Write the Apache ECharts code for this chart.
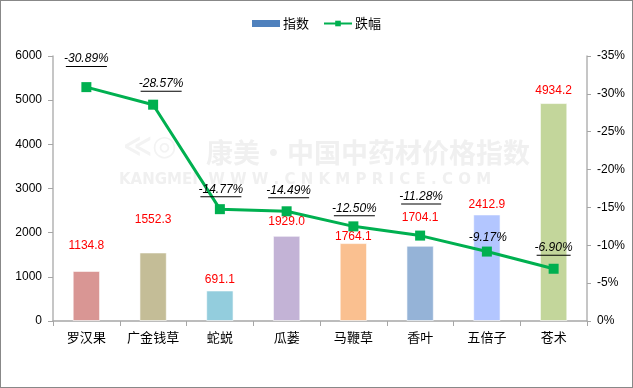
<!DOCTYPE html>
<html><head><meta charset="utf-8">
<script src="https://cdn.jsdelivr.net/npm/echarts@6/dist/echarts.min.js"></script>
<style>html,body{margin:0;padding:0;background:#fff}#c{width:633px;height:388px;box-sizing:border-box;border:1px solid #888}</style>
</head><body><div id="c"></div>
<script>
const categories = ['罗汉果','广金钱草','蛇蜕','瓜蒌','马鞭草','香叶','五倍子','苍术'];
const indexValues = [1134.8, 1552.3, 691.1, 1929.0, 1764.1, 1704.1, 2412.9, 4934.2];
const changeValues = [-30.89, -28.57, -14.77, -14.49, -12.50, -11.28, -9.17, -6.90];
const leftTicks = [0, 1000, 2000, 3000, 4000, 5000, 6000];
const rightTicks = [0, -5, -10, -15, -20, -25, -30, -35];

// styles (not data)
const barColors = ['#D99694','#C4BD97','#93CDDD','#C3B3D6','#FAC090','#95B3D7','#B3C6FF','#C3D69B'];
const barLabelDy = [-14, -22, 0, -3, 5, -17, 1, -1];
const lineLabelOff = [[0,-28],[8,-21],[1,-20],[2,-21],[1,-18],[1,-39],[1,-14],[0,-21]];
const underlined = [true,true,true,true,true,true,false,true];

const FONT = 'Liberation Sans';
const cv = document.createElement('canvas').getContext('2d');
cv.font = 'italic 12px "' + FONT + '"';
function fmtPct(v){ return v.toFixed(2) + '%'; }

const chart = echarts.init(document.getElementById('c'), null, {renderer:'canvas'});
chart.setOption({
  animation: false,
  backgroundColor: '#fff',
  legend: {
    top: 11, left: 'center', itemGap: 14, itemWidth: 28, itemHeight: 7,
    textStyle: {fontFamily: 'Noto Sans CJK SC', fontSize: 13, color: '#000', padding: [0,0,0,-2]},
    data: [
      {name: '指数', icon: 'rect', itemStyle: {color: '#4F81BD'}},
      {name: '跌幅'}
    ]
  },
  graphic: [
    {type: 'text', left: 205, top: 138, z: 0, silent: true,
     style: {text: '康美·中国中药材价格指数', fontSize: 27, fontWeight: 'bold', fontFamily: 'Noto Sans CJK SC', fill: '#f0f0f0'}},
    {type: 'text', left: 118, top: 172, z: 0, silent: true,
     style: {text: 'KANGMEI  W W W . C N K M P R I C E . C O M', fontSize: 15, fontWeight: 'bold', fontFamily: 'DejaVu Sans', fill: '#f0f0f0'}},
    {type: 'text', left: 122, top: 133, z: 0, silent: true,
     style: {text: '≪◎', fontSize: 28, fontWeight: 'bold', fontFamily: 'DejaVu Sans', fill: '#f3f3f3'}}
  ],
  grid: {left: 52, right: 45, top: 55, bottom: 66, containLabel: false},
  xAxis: {
    type: 'category', data: categories,
    axisLine: {lineStyle: {color: '#a6a6a6', width: 1.5}},
    axisTick: {show: true, alignWithLabel: false, interval: 0, length: 5, lineStyle: {color: '#a6a6a6'}},
    axisLabel: {interval: 0, fontFamily: 'Noto Sans CJK SC', fontSize: 13, color: '#000', margin: 10}
  },
  yAxis: [
    {type: 'value', min: 0, max: 6000, interval: 1000, position: 'left',
     axisLine: {show: true, lineStyle: {color: '#b3b3b3', width: 1.5}},
     axisTick: {show: true, inside: false, length: 5, lineStyle: {color: '#a6a6a6'}},
     splitLine: {show: false},
     axisLabel: {fontFamily: FONT, fontSize: 12, color: '#000', margin: 11,
       formatter: v => leftTicks.includes(v) ? String(v) : ''}},
    {type: 'value', min: -35, max: 0, interval: 5, inverse: true, position: 'right',
     axisLine: {show: true, lineStyle: {color: '#b3b3b3', width: 1.5}},
     axisTick: {show: true, length: 4, inside: false, lineStyle: {color: '#a6a6a6'}},
     splitLine: {show: false},
     axisLabel: {fontFamily: FONT, fontSize: 12, color: '#000', margin: 10,
       formatter: v => rightTicks.includes(v) ? (v === 0 ? '0%' : v + '%') : ''}}
  ],
  series: [
    {name: '指数', type: 'bar', yAxisIndex: 0, barWidth: '41%', z: 2,
     data: indexValues.map((v, i) => ({
       value: v,
       itemStyle: {color: barColors[i], borderColor: 'rgba(255,255,255,0.6)', borderWidth: 1},
       label: {offset: [0, barLabelDy[i]]}
     })),
     label: {show: true, position: 'top', distance: 5, color: '#FF0000', fontFamily: FONT, fontSize: 12,
       formatter: p => p.value.toFixed(1)}},
    {name: '跌幅', type: 'line', yAxisIndex: 1, z: 5,
     symbol: 'rect', symbolSize: 10, showSymbol: true,
     itemStyle: {color: '#00B050'},
     lineStyle: {color: '#00B050', width: 3},
     data: changeValues.map((v, i) => {
       const t = fmtPct(v);
       const w = Math.round(cv.measureText(t).width);
       return {
         value: v,
         label: {
           offset: [lineLabelOff[i][0], lineLabelOff[i][1] + (underlined[i] ? 1 : 0)],
           formatter: underlined[i] ? '{t|' + t + '}\n{u|}' : '{t|' + t + '}',
           rich: {
             t: {fontFamily: FONT, fontStyle: 'italic', fontSize: 12, color: '#000', lineHeight: 13},
             u: {width: w - 4, height: 1, backgroundColor: '#000', lineHeight: 2}
           }
         }
       };
     }),
     label: {show: true, position: 'inside', color: '#000'}}
  ]
});
</script></body></html>
